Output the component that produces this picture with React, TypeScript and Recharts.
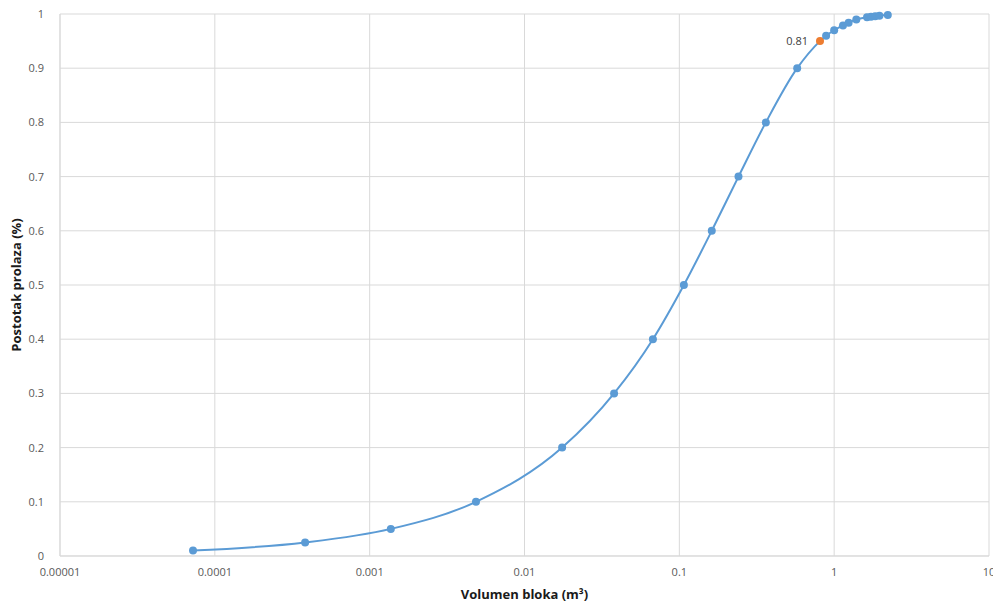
import { LineChart, Line, XAxis, YAxis, CartesianGrid } from 'recharts';

// volumen bloka (m3) and postotak prolaza
const volumes = [
  0.0000723, 0.000383, 0.00137, 0.00486, 0.0175, 0.0379, 0.0675, 0.107, 0.162, 0.241,
  0.362, 0.577, 0.81, 0.887, 1.0, 1.14, 1.24, 1.39, 1.63, 1.73, 1.84, 1.96, 2.22,
];
const passing = [
  0.01, 0.025, 0.05, 0.1, 0.2, 0.3, 0.4, 0.5, 0.6, 0.7,
  0.8, 0.9, 0.95, 0.96, 0.97, 0.979, 0.984, 0.99, 0.994, 0.995, 0.996, 0.997, 0.998,
];
const highlightIndex = 12;
const highlightLabel = '0.81';

const xTicks = [0.00001, 0.0001, 0.001, 0.01, 0.1, 1, 10];
const xTickLabels = ['0.00001', '0.0001', '0.001', '0.01', '0.1', '1', '10'];
const yTicks = [0, 0.1, 0.2, 0.3, 0.4, 0.5, 0.6, 0.7, 0.8, 0.9, 1];
const yTickLabels = ['0', '0.1', '0.2', '0.3', '0.4', '0.5', '0.6', '0.7', '0.8', '0.9', '1'];

const data = volumes.map((v, i) => ({ v, p: passing[i] }));

const font = '"Open Sans", "Liberation Sans", sans-serif';

function Dot(props: any) {
  const { cx, cy, index } = props;
  if (cx == null || cy == null) return null;
  if (index === highlightIndex) {
    return (
      <g key={'d' + index}>
        <circle cx={cx} cy={cy} r={4} fill="#ed7d31" />
        <text x={cx - 12} y={cy + 4} textAnchor="end" fontSize={11} fill="#404040" fontFamily={font}>
          {highlightLabel}
        </text>
      </g>
    );
  }
  return <circle key={'d' + index} cx={cx} cy={cy} r={4} fill="#5b9bd5" />;
}

export default function App() {
  return (
    <div style={{ position: 'absolute', left: 0, top: 0, background: 'white' }}>
      <LineChart width={993} height={604} data={data} margin={{ top: 14, right: 4, bottom: 0, left: 0 }}>
        <CartesianGrid stroke="#d9d9d9" strokeWidth={1} />
        <XAxis
          dataKey="v"
          type="number"
          scale="log"
          domain={[0.00001, 10]}
          ticks={xTicks}
          tickFormatter={(t: number) => xTickLabels[xTicks.indexOf(t)] ?? String(t)}
          allowDataOverflow
          height={48}
          axisLine={{ stroke: '#d9d9d9' }}
          tickLine={false}
          tick={{ fontSize: 11, fill: '#595959', fontFamily: font }}
          tickMargin={6}
          interval={0}
          label={{
            value: 'Volumen bloka (m³)',
            position: 'insideBottom',
            offset: 5,
            style: { fontSize: 13, fontWeight: 'bold', fill: '#1a1a1a', fontFamily: font },
          }}
        />
        <YAxis
          type="number"
          domain={[0, 1]}
          ticks={yTicks}
          tickFormatter={(t: number) => yTickLabels[yTicks.indexOf(t)] ?? String(t)}
          width={60}
          axisLine={{ stroke: '#d9d9d9' }}
          tickLine={false}
          tick={{ fontSize: 11, fill: '#595959', fontFamily: font }}
          tickMargin={10}
          interval={0}
          label={{
            value: 'Postotak prolaza (%)',
            angle: -90,
            position: 'insideLeft',
            offset: 16,
            style: { fontSize: 13, fontWeight: 'bold', fill: '#1a1a1a', fontFamily: font, textAnchor: 'middle' },
          }}
        />
        <Line
          dataKey="p"
          type="monotone"
          stroke="#5b9bd5"
          strokeWidth={2}
          dot={Dot}
          activeDot={false}
          isAnimationActive={false}
        />
      </LineChart>
    </div>
  );
}
